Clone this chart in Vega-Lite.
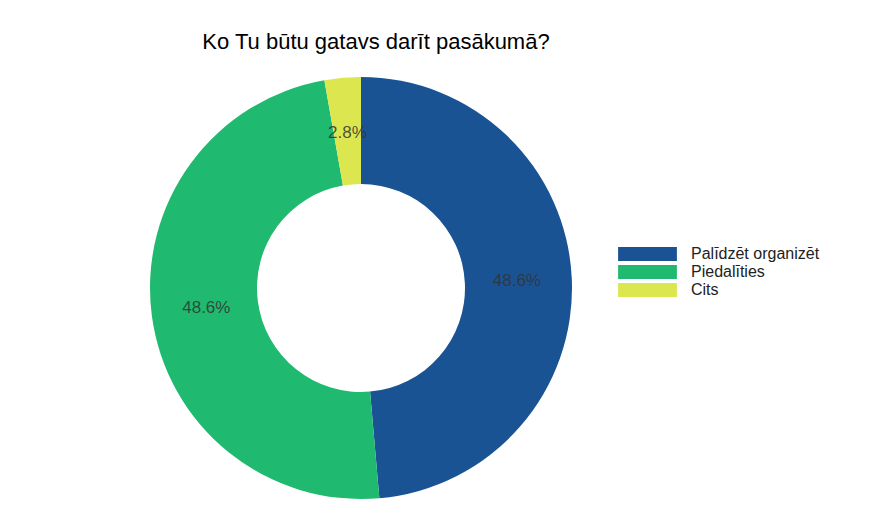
{
  "$schema": "https://vega.github.io/schema/vega-lite/v6.json",
  "width": 722,
  "height": 456,
  "autosize": {"type": "none"},
  "padding": {"left": 0, "top": 60, "right": 169, "bottom": 6},
  "background": "white",
  "title": {
    "text": "Ko Tu būtu gatavs darīt pasākumā?",
    "font": "Liberation Sans",
    "fontSize": 22,
    "fontWeight": "normal",
    "color": "#000000",
    "anchor": "middle",
    "dx": 15,
    "offset": 6
  },
  "data": {
    "values": [
      {"atbilde": "Palīdzēt organizēt", "skaits": 35, "kartiba": 1},
      {"atbilde": "Piedalīties", "skaits": 35, "kartiba": 2},
      {"atbilde": "Cits", "skaits": 2, "kartiba": 3}
    ]
  },
  "transform": [
    {"joinaggregate": [{"op": "sum", "field": "skaits", "as": "kopa"}]},
    {"calculate": "datum.skaits / datum.kopa", "as": "dala"}
  ],
  "encoding": {
    "theta": {"field": "skaits", "type": "quantitative", "stack": true},
    "order": {"field": "kartiba", "type": "quantitative"},
    "color": {
      "field": "atbilde",
      "type": "nominal",
      "sort": ["Palīdzēt organizēt", "Piedalīties", "Cits"],
      "scale": {
        "domain": ["Palīdzēt organizēt", "Piedalīties", "Cits"],
        "range": ["#1a5393", "#1fba6f", "#dce74f"]
      },
      "legend": {
        "title": null,
        "orient": "none",
        "legendX": 639.5,
        "legendY": 186,
        "symbolType": "M-4.2,-1H4.2V1H-4.2Z",
        "symbolSize": 196,
        "symbolStrokeWidth": 0,
        "symbolOpacity": 1,
        "labelFont": "Liberation Sans",
        "labelFontSize": 16,
        "labelColor": "#222222",
        "labelOffset": 35.5,
        "rowPadding": 2,
        "labelLimit": 300
      }
    }
  },
  "layer": [
    {
      "mark": {"type": "arc", "outerRadius": 211, "innerRadius": 104, "stroke": null}
    },
    {
      "mark": {"type": "text", "radius": 156, "font": "Liberation Sans", "fontSize": 17, "fill": "#333333", "fillOpacity": 0.85},
      "encoding": {
        "text": {"field": "dala", "type": "quantitative", "format": ".1%"},
        "color": {"value": "#333333"}
      }
    }
  ],
  "config": {"view": {"stroke": null}}
}
